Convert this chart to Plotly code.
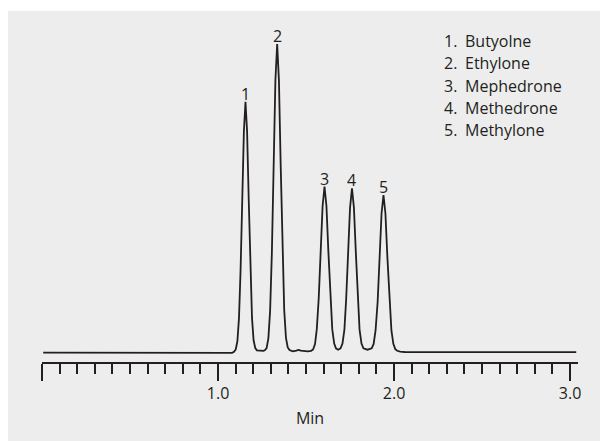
import plotly.graph_objects as go

# Compounds (peak order)
compounds = ["Butyolne", "Ethylone", "Mephedrone", "Methedrone", "Methylone"]
# Peak apex retention times (min) and apex responses (arbitrary units, baseline = 0)
peak_times = [1.156, 1.336, 1.605, 1.761, 1.940]
peak_heights = [250.6, 308.3, 165.6, 164.0, 157.3]

time_min = [
    0.007, 0.200, 0.220, 0.600, 1.000, 1.080,
    1.091, 1.1005, 1.110, 1.119, 1.128, 1.137, 1.147, 1.156,
    1.165, 1.1745, 1.184, 1.193, 1.202, 1.2115, 1.221, 1.240, 1.257,
    1.266, 1.276, 1.286, 1.296, 1.306, 1.316, 1.326, 1.336,
    1.346, 1.356, 1.366, 1.376, 1.386, 1.396, 1.406,
    1.425, 1.445, 1.457, 1.470, 1.490, 1.510,
    1.529, 1.540, 1.551, 1.561, 1.572, 1.583, 1.594, 1.605,
    1.616, 1.627, 1.638, 1.649, 1.660, 1.670, 1.682,
    1.696, 1.707, 1.718, 1.728, 1.739, 1.750, 1.761,
    1.772, 1.783, 1.794, 1.804, 1.815, 1.826, 1.849,
    1.873, 1.884, 1.895, 1.907, 1.918, 1.929, 1.940,
    1.951, 1.962, 1.974, 1.985, 1.996, 2.007, 2.018, 2.035, 2.060,
    2.500, 3.035,
]
signal = [
    -0.3, -0.3, -0.6, -0.7, -0.6, -0.5,
    0.5, 2.8, 11.0, 33.9, 81.4, 152.0, 221.2, 250.6,
    221.2, 152.0, 81.4, 34.4, 12.0, 4.3, 2.0, 1.5, 1.4,
    2.0, 4.2, 14.0, 41.7, 100.1, 187.0, 272.1, 308.3,
    272.1, 187.0, 100.1, 42.2, 14.5, 4.9, 2.2,
    0.9, 1.6, 2.4, 1.6, 1.0, 1.0,
    1.5, 2.8, 8.3, 22.9, 53.8, 100.4, 146.1, 165.6,
    146.1, 100.4, 53.8, 22.9, 8.8, 4.0, 2.6,
    4.0, 8.7, 22.7, 53.3, 99.5, 144.7, 164.0,
    144.7, 99.5, 53.3, 22.7, 8.7, 4.0, 2.6,
    4.0, 8.4, 21.8, 51.1, 95.4, 138.8, 157.3,
    138.8, 95.4, 51.1, 21.8, 8.4, 3.2, 1.5, 0.6, 0.3,
    0.2, 0.1,
]

major_ticks = [0, 1, 2, 3]
major_labels = ["", "1.0", "2.0", "3.0"]

INK = "#231f20"
FONT = "Open Sans"

# page has an 8px body margin; figure coordinates below are page coords - 8
OFF = 8.0
W, H = 536.0, 332.0
L, T_AX = 42.0 - OFF, 362.0 - OFF

fig = go.Figure()
fig.add_trace(go.Scatter(
    x=time_min, y=signal, mode="lines",
    line=dict(color=INK, width=1.8),
    hoverinfo="skip", showlegend=False,
))

# Peak number labels
for i, (t, h) in enumerate(zip(peak_times, peak_heights)):
    fig.add_annotation(
        x=t, y=h, text=str(i + 1), showarrow=False,
        xanchor="center", yanchor="bottom", yshift=-5,
        font=dict(family=FONT, size=16, color=INK),
    )

# Compound list (top right)
row_y = [40.7, 63.3, 85.7, 107.7, 130.0]
for i, (name, py) in enumerate(zip(compounds, row_y)):
    yp = (T_AX - (py - OFF)) / H
    fig.add_annotation(
        xref="paper", yref="paper", x=(442.0 - OFF - L) / W, y=yp,
        text=f"{i + 1}.", showarrow=False, xanchor="left", yanchor="middle",
        font=dict(family=FONT, size=16, color=INK),
    )
    fig.add_annotation(
        xref="paper", yref="paper", x=(463.0 - OFF - L) / W, y=yp,
        text=name, showarrow=False, xanchor="left", yanchor="middle",
        font=dict(family=FONT, size=16, color=INK),
    )

# Grey panel background
fig.add_shape(
    type="rect", xref="paper", yref="paper",
    x0=(-2 - L) / W, x1=1.2, y0=-0.4, y1=(T_AX - (11 - OFF)) / H,
    fillcolor="#ededed", line=dict(width=0), layer="below",
)

fig.update_layout(
    width=600, height=433,
    margin=dict(l=34, r=30, t=22, b=79, pad=0),
    paper_bgcolor="white", plot_bgcolor="rgba(0,0,0,0)",
    font=dict(family=FONT, size=16, color=INK),
    showlegend=False,
)
fig.update_xaxes(
    range=[0, 3.045], showgrid=False, zeroline=False,
    showline=True, linecolor=INK, linewidth=2,
    tickmode="array", tickvals=major_ticks, ticktext=major_labels,
    ticks="outside", ticklen=17, tickwidth=2, tickcolor=INK,
    ticklabelstandoff=-1,
    tickfont=dict(family=FONT, size=16, color=INK),
    minor=dict(tickmode="linear", tick0=0, dtick=0.1, ticks="outside",
               ticklen=10, tickwidth=1.6, tickcolor=INK, showgrid=False),
    title=dict(text="Min", standoff=10, font=dict(family=FONT, size=16, color=INK)),
    automargin=False,
)
fig.update_yaxes(visible=False, range=[-9.7, 322.3], automargin=False)

fig.write_html("out.html")
